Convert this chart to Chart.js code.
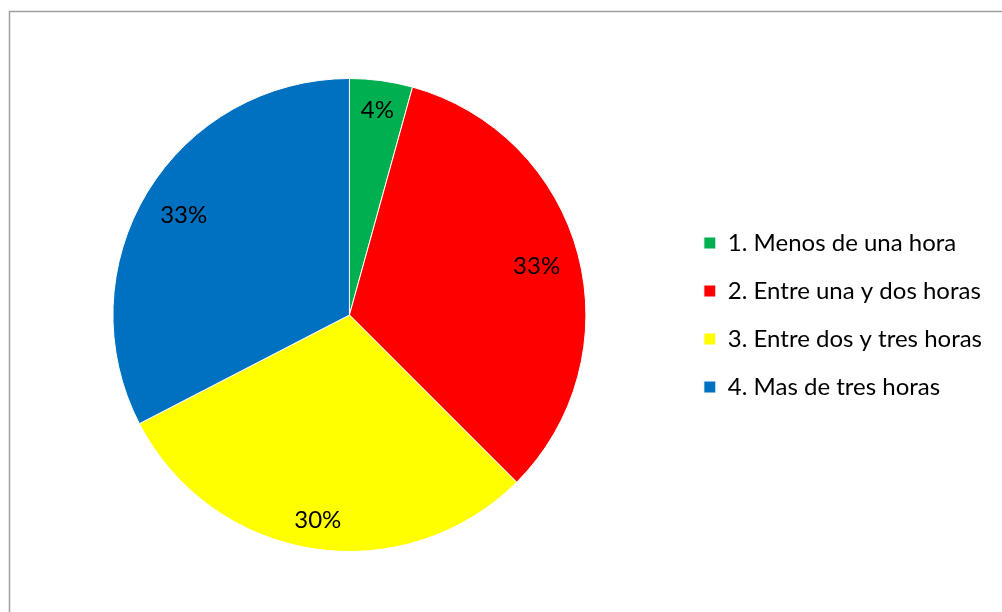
<!DOCTYPE html>
<html>
<head>
<meta charset="utf-8">
<script src="https://cdn.jsdelivr.net/npm/chart.js@4.4.1/dist/chart.umd.min.js"></script>
<style>
  html, body { margin: 0; padding: 0; background: #fff; }
  #wrap { position: absolute; left: 0; top: 0; width: 1002px; height: 612px; }
</style>
</head>
<body>
<div id="wrap"><canvas id="c" width="1002" height="612"></canvas></div>
<script>
const categories = [
  "1. Menos de una hora",
  "2. Entre una y dos horas",
  "3. Entre dos y tres horas",
  "4. Mas de tres horas"
];
const values = [4.3, 33.2, 29.9, 32.6];
const colors = ["#00B050", "#FF0000", "#FFFF00", "#0070C0"];

const FONT = "Lato";
const FONT_SIZE = 24;

const framePlugin = {
  id: 'frame',
  beforeDraw(chart) {
    const ctx = chart.ctx;
    ctx.save();
    ctx.fillStyle = '#fff';
    ctx.fillRect(0, 0, chart.width, chart.height);
    ctx.strokeStyle = '#a0a0a0';
    ctx.lineWidth = 1.5;
    ctx.beginPath();
    ctx.moveTo(9.5, chart.height);
    ctx.lineTo(9.5, 11.5);
    ctx.lineTo(chart.width, 11.5);
    ctx.stroke();
    ctx.restore();
  }
};

const labelPlugin = {
  id: 'pctLabels',
  afterDatasetsDraw(chart) {
    const ctx = chart.ctx;
    const meta = chart.getDatasetMeta(0);
    const data = chart.data.datasets[0].data;
    const total = data.reduce((a, b) => a + b, 0);
    ctx.save();
    ctx.font = FONT_SIZE + 'px ' + FONT;
    ctx.fillStyle = '#000';
    ctx.textAlign = 'center';
    ctx.textBaseline = 'middle';
    meta.data.forEach((arc, i) => {
      const p = arc.getProps(['x', 'y', 'startAngle', 'endAngle', 'outerRadius'], true);
      const mid = (p.startAngle + p.endAngle) / 2;
      const txt = Math.round(data[i] / total * 100) + '%';
      const halfW = ctx.measureText(txt).width / 2;
      const halfH = 8.5;
      const c = Math.cos(mid), s = Math.sin(mid);
      const r = p.outerRadius - 18 - (Math.abs(c) * halfW + Math.abs(s) * halfH);
      ctx.fillText(txt, p.x + c * r, p.y + s * r + 1);
    });
    ctx.restore();
  }
};

new Chart(document.getElementById('c'), {
  type: 'pie',
  data: {
    labels: categories,
    datasets: [{
      data: values,
      backgroundColor: colors,
      borderColor: '#ffffff',
      borderWidth: 1
    }]
  },
  options: {
    responsive: false,
    animation: false,
    layout: { padding: { left: 19, top: 78, bottom: 60, right: 10 } },
    plugins: {
      tooltip: { enabled: false },
      legend: {
        position: 'right',
        labels: {
          boxWidth: 12,
          boxHeight: 12,
          padding: 24,
          color: '#000',
          font: { family: FONT, size: FONT_SIZE }
        }
      }
    }
  },
  plugins: [framePlugin, labelPlugin]
});
</script>
</body>
</html>
